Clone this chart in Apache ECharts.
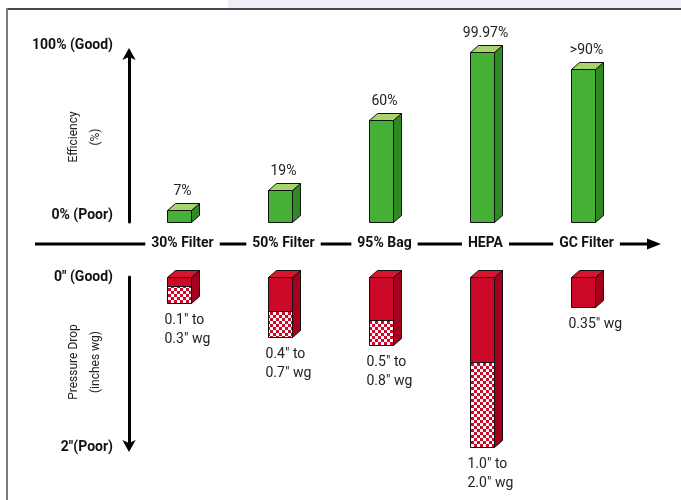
<!DOCTYPE html>
<html><head><meta charset="utf-8">
<script src="https://cdn.jsdelivr.net/npm/echarts@6/dist/echarts.min.js"></script>
<style>html,body{margin:0;padding:0;background:#fff}#c{width:681px;height:500px}</style>
</head><body><div id="c"></div>
<script>
// ---- data ----
const categories = ['30% Filter', '50% Filter', '95% Bag', 'HEPA', 'GC Filter'];
const efficiency = [7, 19, 60, 99.97, 90];
const efficiencyLabels = ['7%', '19%', '60%', '99.97%', '>90%'];
const pressureLow = [0.1, 0.4, 0.5, 1.0, 0.35];
const pressureHigh = [0.3, 0.7, 0.8, 2.0, 0.35];
const pressureLabels = ['0.1" to\n0.3" wg', '0.4" to\n0.7" wg', '0.5" to\n0.8" wg', '1.0" to\n2.0" wg', '0.35" wg'];
const efficiencyTicks = ['0% (Poor)', '100% (Good)'];
const pressureTicks = ['0" (Good)', '2"(Poor)'];
const efficiencyTitle = 'Efficiency\n(%)';
const pressureTitle = 'Pressure Drop\n(inches wg)';

// ---- styling ----
const FONT = 'Roboto, "Liberation Sans", sans-serif';
const GREEN = {front: '#45b035', side: '#2f8a24', top: '#a8d46c'};
const RED = {front: '#cc0829', side: '#a6001f', top: '#d8142f'};
const FRONT_W = 24, DX = 8, DY = 7;

const checker = document.createElement('canvas');
checker.width = 6; checker.height = 6;
const cctx = checker.getContext('2d');
cctx.fillStyle = '#ffffff'; cctx.fillRect(0, 0, 6, 6);
cctx.fillStyle = RED.front; cctx.fillRect(0, 0, 3, 3); cctx.fillRect(3, 3, 3, 3);

const OUT = {stroke: '#111', lineWidth: 1, lineJoin: 'round'};

function renderGreen(params, api) {
  const i = api.value(0);
  const base = api.coord([i, 0]);
  const top = api.coord([i, api.value(1)]);
  const c = base[0];
  const x0 = Math.round(c - (FRONT_W + DX) / 2) + 0.5;
  const x1 = x0 + FRONT_W;
  const yT = Math.round(top[1]) + 0.5, yB = Math.round(base[1]) + 0.5;
  return {type: 'group', children: [
    {type: 'polygon', shape: {points: [[x1, yT], [x1 + DX, yT - DY], [x1 + DX, yB - DY], [x1, yB]]}, style: Object.assign({fill: GREEN.side}, OUT)},
    {type: 'polygon', shape: {points: [[x0, yT], [x0 + DX, yT - DY], [x1 + DX, yT - DY], [x1, yT]]}, style: Object.assign({fill: GREEN.top}, OUT)},
    {type: 'rect', shape: {x: x0, y: yT, width: FRONT_W, height: yB - yT}, style: Object.assign({fill: GREEN.front}, OUT)},
    {type: 'text', x: c, y: yT - DY - 5, style: {text: efficiencyLabels[i], align: 'center', verticalAlign: 'bottom', fontFamily: FONT, fontSize: 14, fill: '#222'}}
  ]};
}

function renderRed(params, api) {
  const i = api.value(0);
  const p0 = api.coord([i, 0]);
  const pL = api.coord([i, api.value(1)]);
  const pH = api.coord([i, api.value(2)]);
  const c = p0[0];
  const x0 = Math.round(c - (FRONT_W + DX) / 2) + 0.5;
  const x1 = x0 + FRONT_W;
  const y0 = Math.round(p0[1]) + 0.5, yL = Math.round(pL[1]) + 0.5, yH = Math.round(pH[1]) + 0.5;
  const children = [
    {type: 'polygon', shape: {points: [[x1, y0], [x1 + DX, y0 - DY], [x1 + DX, yH - DY], [x1, yH]]}, style: Object.assign({fill: RED.side}, OUT)},
    {type: 'polygon', shape: {points: [[x0, y0], [x0 + DX, y0 - DY], [x1 + DX, y0 - DY], [x1, y0]]}, style: Object.assign({fill: RED.top}, OUT)},
    {type: 'rect', shape: {x: x0, y: y0, width: FRONT_W, height: yL - y0}, style: {fill: RED.front}}
  ];
  if (yH > yL) {
    children.push({type: 'rect', shape: {x: x0, y: yL, width: FRONT_W, height: yH - yL}, style: {fill: {image: checker, repeat: 'repeat'}}});
    children.push({type: 'line', shape: {x1: x0, y1: yL, x2: x1, y2: yL}, style: {stroke: '#111', lineWidth: 1}});
  }
  children.push({type: 'rect', shape: {x: x0, y: y0, width: FRONT_W, height: yH - y0}, style: Object.assign({fill: 'none'}, OUT)});
  children.push({type: 'text', x: x0 - 3, y: yH + 7, style: {text: pressureLabels[i], align: 'left', verticalAlign: 'top', fontFamily: FONT, fontSize: 14, lineHeight: 19, fill: '#222'}});
  return {type: 'group', children: children};
}

const chart = echarts.init(document.getElementById('c'), null, {renderer: 'canvas'});
const GRID_LEFT = 132, GRID_W = 505;
const tickStyle = {fontFamily: FONT, fontSize: 14, fontWeight: 'bold', color: '#111'};
const nameStyle = {fontFamily: FONT, fontSize: 12, lineHeight: 22, color: '#222'};
chart.setOption({
  backgroundColor: '#ffffff',
  animation: false,
  grid: [
    {left: GRID_LEFT, width: GRID_W, top: 52, height: 170, containLabel: false, outerBoundsMode: 'none'},
    {left: GRID_LEFT, width: GRID_W, top: 277, height: 170, containLabel: false, outerBoundsMode: 'none'}
  ],
  xAxis: [
    {type: 'category', gridIndex: 0, data: categories, z: 10,
     axisLine: {show: false}, axisTick: {show: false}, splitLine: {show: false},
     axisLabel: Object.assign({interval: 0, margin: 13, backgroundColor: '#ffffff', padding: [1, 6]}, tickStyle)},
    {type: 'category', gridIndex: 1, data: categories, show: false}
  ],
  yAxis: [
    {type: 'value', gridIndex: 0, min: 0, max: 100, interval: 100, offset: 3,
     splitLine: {show: false}, axisTick: {show: false},
     axisLine: {show: true, lineStyle: {color: '#000', width: 3}, symbol: ['none', 'arrow'], symbolSize: [10, 12], symbolOffset: [0, 4]},
     axisLabel: Object.assign({margin: 16, verticalAlign: 'bottom',
                 formatter: v => v === 0 ? efficiencyTicks[0] : efficiencyTicks[1]}, tickStyle),
     name: efficiencyTitle, nameLocation: 'middle', nameRotate: 90, nameGap: 22, nameMoveOverlap: false,
     nameTextStyle: nameStyle},
    {type: 'value', gridIndex: 1, min: 0, max: 2, interval: 2, inverse: true, offset: 3,
     splitLine: {show: false}, axisTick: {show: false},
     axisLine: {show: true, lineStyle: {color: '#000', width: 3}, symbol: ['arrow', 'none'], symbolSize: [10, 12], symbolOffset: [-5, 0]},
     axisLabel: Object.assign({margin: 16, verticalAlign: 'middle',
                 formatter: v => v === 0 ? pressureTicks[0] : pressureTicks[1]}, tickStyle),
     name: pressureTitle, nameLocation: 'middle', nameRotate: 90, nameGap: 22, nameMoveOverlap: false,
     nameTextStyle: nameStyle}
  ],
  graphic: [
    {type: 'rect', z: -5, shape: {x: 228, y: 0, width: 453, height: 8}, style: {fill: '#efeff5'}},
    {type: 'rect', z: -5, shape: {x: 6, y: 8, width: 675, height: 2}, style: {fill: '#4a4a4a'}},
    {type: 'rect', z: -5, shape: {x: 6, y: 8, width: 2, height: 492}, style: {fill: '#7a7a7a'}},
    {type: 'line', z: -5, shape: {x1: 35, y1: 244, x2: 650, y2: 244}, style: {stroke: '#000', lineWidth: 3}},
    {type: 'polygon', z: -5, shape: {points: [[647, 238.5], [661, 244], [647, 249.5]]}, style: {fill: '#000'}}
  ],
  series: [
    {type: 'custom', xAxisIndex: 0, yAxisIndex: 0, renderItem: renderGreen,
     data: efficiency.map((v, i) => [i, v])},
    {type: 'custom', xAxisIndex: 1, yAxisIndex: 1, renderItem: renderRed,
     data: pressureLow.map((v, i) => [i, v, pressureHigh[i]])}
  ]
});
</script>
</body></html>
